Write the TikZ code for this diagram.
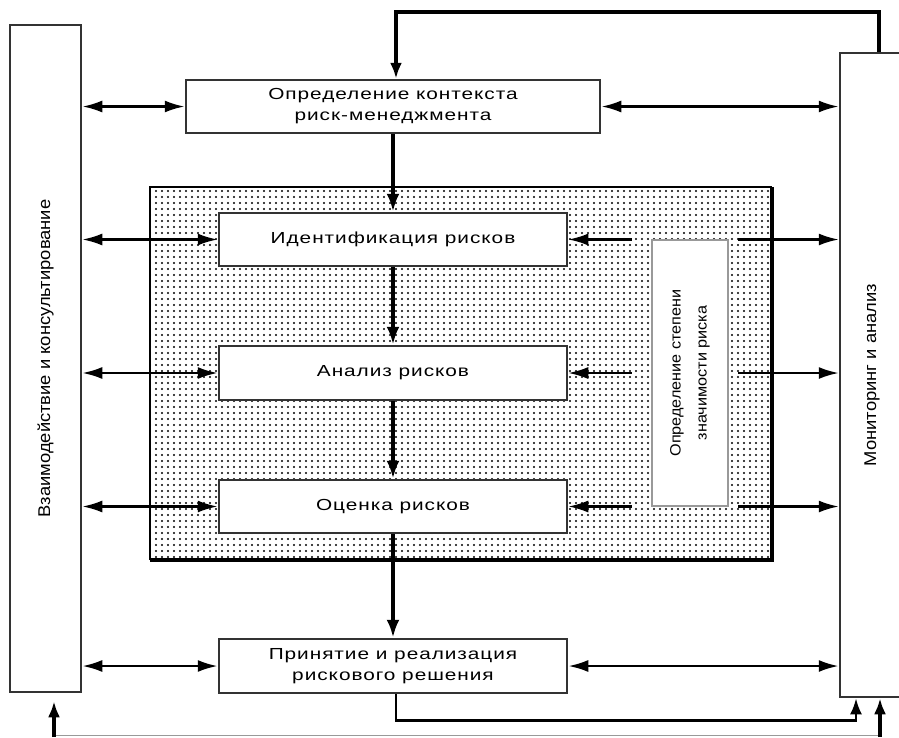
\documentclass[tikz,border=0pt]{standalone}
\usepackage{fontspec}
\setmainfont{Liberation Sans}
\newfontfamily\boxfont[FakeStretch=1.3,LetterSpace=6]{Liberation Sans}
\newfontfamily\sidefont[FakeStretch=1.08]{Liberation Sans}
\usetikzlibrary{arrows.meta,patterns.meta,calc}

\begin{document}
\begin{tikzpicture}[x=1pt,y=-1pt,>={Latex[length=20pt,width=12pt]},
	blok/.style={draw=black!80,line width=2.5pt,fill=white,inner sep=0pt,align=center,
		minimum width=348,minimum height=53,font=\boxfont\fontsize{16}{21}\selectfont},
	sideblok/.style={draw=black!80,line width=2.5pt,fill=white,inner sep=0pt,rotate=90,
		align=center,font=\sidefont\fontsize{17}{26}\selectfont},
	flow/.style={-{Latex[length=18pt,width=13pt]},line width=3.6pt},
	link/.style={<->,line width=2.6pt},
	outlink/.style={->,line width=2.2pt}]
	%\draw [help lines] (0,0) grid (899,737);
	\useasboundingbox (0,0) rectangle (899,737);
	\fill [white] (0,0) rectangle (899,737);
	% dotted field
	\fill [pattern={Dots[distance=6pt,radius=1.1pt]}] (150,187) rectangle (772,560);
	\draw [line width=2pt] (150,560) |- (772,187);
	\draw [line width=3.4pt] (150,560) -| (772,187);
	\node [sideblok,minimum width=667,minimum height=71] (vzaim) at (45.5,358.5) {Взаимодействие и консультирование};
	\node [sideblok,minimum width=644,minimum height=64] (monitor) at (872,375) {Мониторинг и анализ};
	\node [blok,minimum width=414] (context) at (393,106.5) {Определение контекста\\риск-менеджмента};
	\node [blok] (ident) at (393,239.5) {Идентификация рисков};
	\node [blok,minimum height=54] (anal) at (393,373) {Анализ рисков};
	\node [blok] (otsenka) at (393,506.5) {Оценка рисков};
	\node [blok,minimum height=54] (reshenie) at (393,666) {Принятие и реализация\\рискового решения};
	\node [sideblok,draw=black!40,line width=2.6pt,minimum width=266,minimum height=76,
		font=\sidefont\fontsize{15}{26}\selectfont] (znach) at (690,373) {Определение степени\\значимости риска};
	\draw [flow] (context) -- (ident);
	\draw [flow] (ident) -- (anal);
	\draw [flow] (anal) -- (otsenka);
	\draw [flow] (otsenka) -- (reshenie);
	\draw [link] (context.west -| vzaim.south) -- (context.west);
	\draw [link] (context.east) -- (context.east -| monitor.north);
	\draw [link] (reshenie.west -| vzaim.south) -- (reshenie.west);
	\draw [link] (reshenie.east) -- (reshenie.east -| monitor.north);
	\foreach \n in {ident,anal,otsenka} {
		\draw [link,line width=2.4pt] (\n.west -| vzaim.south) -- (\n.west);
		\draw [outlink] ($(\n.east -| znach.north)+(-19,0)$) -- (\n.east);
		\draw [outlink] ($(\n.east -| znach.south)+(9,0)$) -- (\n.east -| monitor.north);
	}
	% feedback loops
	\draw [flow,-{Latex[length=16pt,width=12pt]}] ($(monitor.east)+(7,0)$) -- ++(0,-40) -| ($(context.north)+(3,0)$);
	\draw [-{Latex[length=16pt,width=12pt]},line width=2.6pt] ($(reshenie.south)+(3,0)$) -- ++(0,26) -| ($(monitor.west)+(-16,0)$);
	\coordinate (b1) at (54,737);
	\coordinate (b2) at (880,737);
	\draw [black!40,line width=1pt] ($(b1)+(0,-1.5)$) -- ($(b2)+(0,-1.5)$);
	\draw [flow,-{Latex[length=16pt,width=12pt]}] (b1) -- ($(vzaim.west)+(8.5,8)$);
	\draw [flow,-{Latex[length=16pt,width=12pt]}] (b2) -- ($(monitor.west)+(8,0)$);
\end{tikzpicture}
\end{document}
